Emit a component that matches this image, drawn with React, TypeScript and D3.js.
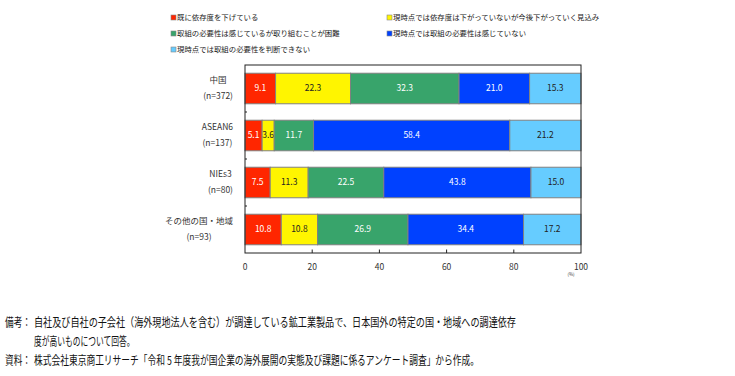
import React from "react";
import * as d3 from "d3";

const categories = ["中国", "ASEAN6", "NIEs3", "その他の国・地域"];
const sampleSizes = ["(n=372)", "(n=137)", "(n=80)", "(n=93)"];
const seriesNames = [
  "既に依存度を下げている",
  "現時点では依存度は下がっていないが今後下がっていく見込み",
  "取組の必要性は感じているが取り組むことが困難",
  "現時点では取組の必要性は感じていない",
  "現時点では取組の必要性を判断できない",
];
const series1 = [9.1, 5.1, 7.5, 10.8];
const series2 = [22.3, 3.6, 11.3, 10.8];
const series3 = [32.3, 11.7, 22.5, 26.9];
const series4 = [21.0, 58.4, 43.8, 34.4];
const series5 = [15.3, 21.2, 15.0, 17.2];
const xTicks = [0, 20, 40, 60, 80, 100];
const noteLines = [
  ["備考：", "自社及び自社の子会社（海外現地法人を含む）が調達している鉱工業製品で、日本国外の特定の国・地域への調達依存"],
  ["", "度が高いものについて回答。"],
  ["資料：", "株式会社東京商工リサーチ「令和 5 年度我が国企業の海外展開の実態及び課題に係るアンケート調査」から作成。"],
];

const colors = ["#FF2600", "#FFF500", "#38A46B", "#0041FF", "#66CCFF"];
const textColors = ["#ffffff", "#222222", "#ffffff", "#ffffff", "#222222"];
const allSeries = [series1, series2, series3, series4, series5];

const FONT = "'Noto Sans CJK JP', 'Noto Sans', sans-serif";

function measure(text: string, size: number) {
  const c = document.createElement("canvas");
  const ctx = c.getContext("2d")!;
  ctx.font = `${size}px ${FONT}`;
  return ctx.measureText(text).width;
}

function Squeezed({ x, y, width, text, fs }: { x: number; y: number; width: number; text: string; fs: number }) {
  const sx = width / measure(text, fs);
  return (
    <g transform={`translate(${x},${y}) scale(${sx},1)`}>
      <text x={0} y={0} dy="0.35em" fontSize={fs} fill="#111">{text}</text>
    </g>
  );
}

export default function App() {
  const W = 735, H = 376;
  const left = 245, right = 581, top = 65, bottom = 253;
  const x = d3.scaleLinear().domain([0, 100]).range([left, right]);
  const y = d3.scaleBand<string>().domain(categories).range([top, bottom]).paddingInner(0.35).paddingOuter(0.175);
  const yOuter = d3.scaleBand<string>().domain(categories).range([top, bottom]);

  const stackData = categories.map((c, i) => {
    let acc = 0;
    return allSeries.map((s, k) => {
      const v = s[i];
      const seg = { k, v, x0: acc, x1: acc + v };
      acc += v;
      return seg;
    });
  });

  const labelFs = 8.5;
  const legendRows = [
    [0, 1],
    [2, 3],
    [4],
  ];
  const legendX = [171, 387];
  const legendY = [17.5, 33.5, 49.5];

  return (
    <svg width={W} height={H} style={{ position: "absolute", left: 0, top: 0, background: "#fff" }} fontFamily={FONT}>
      {/* legend */}
      {legendRows.map((row, r) =>
        row.map((k, c) => (
          <g key={`lg${k}`} transform={`translate(${legendX[c]},${legendY[r]})`}>
            <rect x={0} y={-2.5} width={5} height={5} fill={colors[k]} stroke="#888" strokeWidth={0.6} />
            <text x={6} y={0} dy="0.35em" fontSize={7.4} fill="#222">{seriesNames[k]}</text>
          </g>
        ))
      )}

      {/* bars */}
      {categories.map((cat, i) => (
        <g key={cat}>
          {stackData[i].map((seg) => {
            const x0 = x(seg.x0), x1 = x(Math.min(seg.x1, 100));
            const yy = y(cat)!;
            return (
              <g key={seg.k}>
                <rect x={x0} y={yy} width={x1 - x0} height={y.bandwidth()} fill={colors[seg.k]} stroke="#808080" strokeWidth={1} />
                <text x={(x0 + x1) / 2} y={yy + y.bandwidth() / 2} dy="0.35em" textAnchor="middle" fontSize={labelFs} fill={textColors[seg.k]}>
                  {seg.v.toFixed(1)}
                </text>
              </g>
            );
          })}
        </g>
      ))}

      {/* frame */}
      <rect x={left} y={top} width={right - left} height={bottom - top} fill="none" stroke="#222" strokeWidth={1} />
      {/* y ticks (inward) at band boundaries */}
      {categories.slice(1).map((cat) => (
        <line key={`yt${cat}`} x1={left} x2={left + 2} y1={yOuter(cat)!} y2={yOuter(cat)!} stroke="#222" strokeWidth={1} />
      ))}
      {/* x ticks */}
      {xTicks.slice(1, -1).map((t) => (
        <line key={`xt${t}`} x1={x(t)} x2={x(t)} y1={bottom} y2={bottom - 3.5} stroke="#222" strokeWidth={1} />
      ))}
      {xTicks.map((t) => (
        <text key={`xl${t}`} x={x(t)} y={267} dy="0.35em" textAnchor="middle" fontSize={8.5} fill="#333">{t}</text>
      ))}
      <text x={x(100) - 10} y={274} dy="0.35em" textAnchor="middle" fontSize={4.5} fill="#333">(%)</text>

      {/* category labels */}
      {categories.map((cat, i) => {
        const fs = 8.5;
        const w = Math.max(measure(cat, fs), measure(sampleSizes[i], fs));
        const cx = 233 - w / 2;
        const cy = y(cat)! + y.bandwidth() / 2;
        return (
          <g key={`cl${cat}`}>
            <text x={cx} y={cy - 8} dy="0.35em" textAnchor="middle" fontSize={fs} fill="#333">{cat}</text>
            <text x={cx} y={cy + 8} dy="0.35em" textAnchor="middle" fontSize={fs} fill="#333">{sampleSizes[i]}</text>
          </g>
        );
      })}

      {/* notes */}
      {noteLines.map(([head, body], i) => {
        const yy = 322.5 + i * 19.2;
        const endX = [517, 135, 480][i];
        return (
          <g key={`n${i}`}>
            {head && <Squeezed x={5} y={yy} width={26} text={head} fs={12} />}
            <Squeezed x={34} y={yy} width={endX - 34} text={body} fs={12} />
          </g>
        );
      })}
    </svg>
  );
}
